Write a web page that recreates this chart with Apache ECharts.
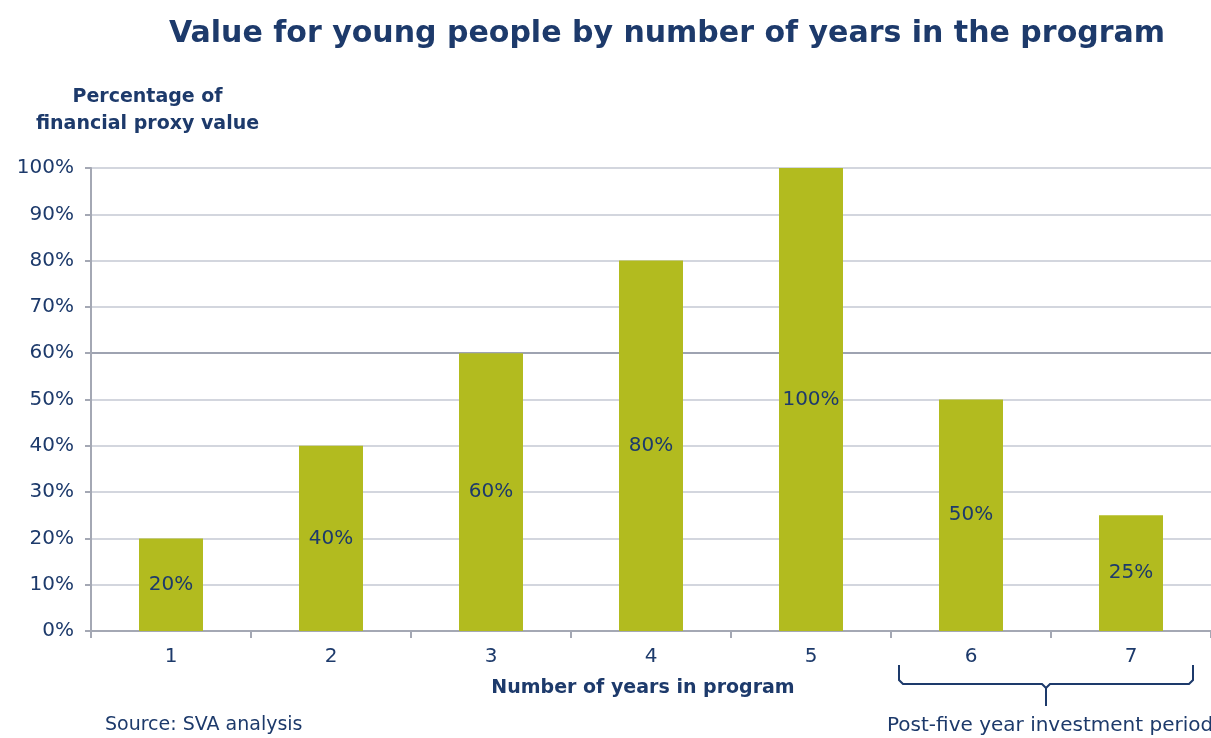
<!DOCTYPE html>
<html>
<head>
<meta charset="utf-8">
<script src="https://cdn.jsdelivr.net/npm/echarts@6/dist/echarts.min.js"></script>
<style>
  html, body { margin: 0; padding: 0; background: #fff; }
  #main { width: 1211px; height: 738px; }
</style>
</head>
<body>
<div id="main"></div>
<script>
// data
var years = ['1', '2', '3', '4', '5', '6', '7'];
var values = [20, 40, 60, 80, 100, 50, 25];
var yTicks = [0, 10, 20, 30, 40, 50, 60, 70, 80, 90, 100];

var navy = '#1d3a6b';
var barColor = '#b2bb1f';
var font = 'DejaVu Sans';

// grid lines: the 60% one is a bit darker
var gridColors = yTicks.map(function (t) { return t === 60 ? '#9ea3b1' : '#d3d6de'; });

var myChart = echarts.init(document.getElementById('main'));
var option = {
    backgroundColor: '#fff',
    animation: false,
    title: {
        text: 'Value for young people by number of years in the program',
        left: 662,
        textAlign: 'center',
        top: 14,
        textStyle: { color: navy, fontFamily: font, fontWeight: 'bold', fontSize: 30 }
    },
    grid: { left: 91, right: 0, top: 168, bottom: 107, containLabel: false, outerBoundsMode: 'none' },
    xAxis: {
        type: 'category',
        data: years,
        name: 'Number of years in program',
        nameLocation: 'middle',
        nameGap: 48,
        nameTextStyle: { color: navy, fontFamily: font, fontWeight: 'bold', fontSize: 19, padding: [0, 16, 0, 0] },
        axisLine: { lineStyle: { color: '#a4a8b4', width: 2 } },
        axisTick: { show: true, length: 7, lineStyle: { color: '#a4a8b4', width: 2 } },
        axisLabel: { color: navy, fontFamily: font, fontSize: 20, margin: 16 }
    },
    yAxis: {
        type: 'value',
        min: 0,
        max: 100,
        interval: 10,
        axisLine: { show: true, lineStyle: { color: '#a4a8b4', width: 2 } },
        axisTick: { show: true, length: 6, lineStyle: { color: '#a4a8b4', width: 2 } },
        axisLabel: { color: navy, fontFamily: font, fontSize: 20, margin: 17, formatter: '{value}%' },
        splitLine: { show: true, lineStyle: { color: gridColors, width: 2 } }
    },
    series: [{
        type: 'bar',
        data: values,
        barWidth: 64,
        itemStyle: { color: barColor },
        label: {
            show: true,
            position: 'inside',
            color: navy,
            fontFamily: font,
            fontSize: 20,
            formatter: '{c}%'
        }
    }]
};
myChart.setOption(option);

// bracket under years 6 and 7, placed from the axis scale
var bLeft = myChart.convertToPixel({ xAxisIndex: 0 }, '6') - 72;
var bRight = myChart.convertToPixel({ xAxisIndex: 0 }, '7') + 62;
var bMid = (bLeft + bRight) / 2;
var bTop = 665, bBar = 684, bTip = 706;

myChart.setOption({
    graphic: [
        {
            type: 'text',
            left: 36,
            top: 84,
            style: {
                text: 'Percentage of\nfinancial proxy value',
                fill: navy, font: 'bold 19px "DejaVu Sans"',
                textAlign: 'center', lineHeight: 27
            }
        },
        {
            type: 'polyline',
            shape: { points: [[bLeft, bTop], [bLeft, bBar - 4], [bLeft + 4, bBar], [bMid - 4, bBar], [bMid, bBar + 4], [bMid, bTip]] },
            style: { fill: null, stroke: navy, lineWidth: 2 }
        },
        {
            type: 'polyline',
            shape: { points: [[bRight, bTop], [bRight, bBar - 4], [bRight - 4, bBar], [bMid + 4, bBar], [bMid, bBar + 4]] },
            style: { fill: null, stroke: navy, lineWidth: 2 }
        },
        {
            type: 'text',
            left: 887,
            top: 716,
            style: { text: 'Post-five year investment period', fill: navy, font: '20px "DejaVu Sans"' }
        },
        {
            type: 'text',
            left: 105,
            top: 716,
            style: { text: 'Source: SVA analysis', fill: navy, font: '19px "DejaVu Sans"' }
        }
    ]
});
</script>
</body>
</html>
